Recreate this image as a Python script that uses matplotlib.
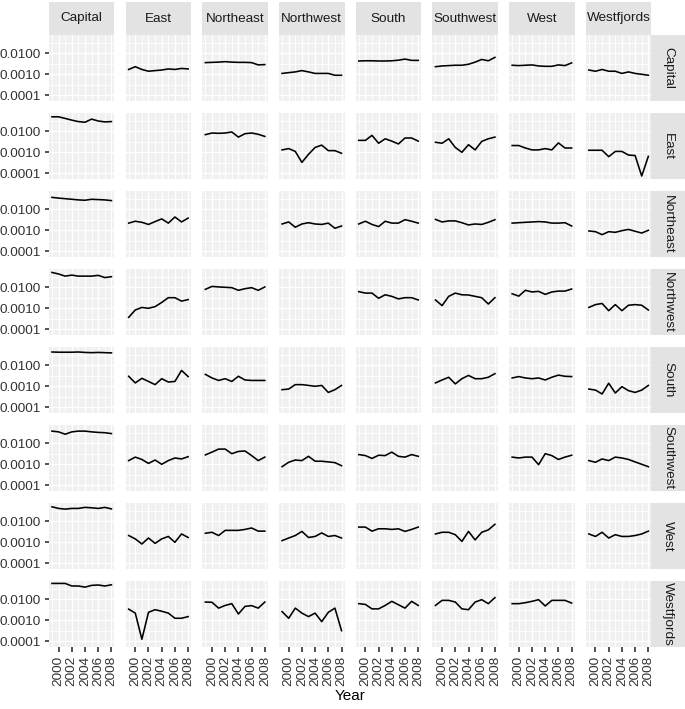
import matplotlib
matplotlib.use("Agg")
import matplotlib.pyplot as plt
from matplotlib.ticker import FixedLocator, FixedFormatter, NullFormatter

regions = ["Capital", "East", "Northeast", "Northwest", "South", "Southwest", "West", "Westfjords"]
years = list(range(1999, 2009))
x_breaks = [2000, 2002, 2004, 2006, 2008]
x_labels = ["2000", "2002", "2004", "2006", "2008"]
y_breaks = [0.0001, 0.001, 0.01]
y_labels = ["0.0001", "0.0010", "0.0100"]

row_capital = {
    "East": [0.0017, 0.0023, 0.0017, 0.0014, 0.0015, 0.0016, 0.0018, 0.0017, 0.0019, 0.0018],
    "Northeast": [0.0036, 0.0037, 0.0038, 0.0040, 0.0038, 0.0037, 0.0037, 0.0036, 0.0028, 0.0029],
    "Northwest": [0.0011, 0.0012, 0.0013, 0.0015, 0.0013, 0.0011, 0.0011, 0.0011, 0.0009, 0.0009],
    "South": [0.0043, 0.0044, 0.0044, 0.0043, 0.0043, 0.0044, 0.0047, 0.0053, 0.0046, 0.0046],
    "Southwest": [0.0023, 0.0025, 0.0026, 0.0027, 0.0027, 0.0030, 0.0038, 0.0051, 0.0044, 0.0064],
    "West": [0.0027, 0.0026, 0.0027, 0.0028, 0.0025, 0.0024, 0.0024, 0.0028, 0.0026, 0.0035],
    "Westfjords": [0.0016, 0.0014, 0.0017, 0.0014, 0.0014, 0.0011, 0.0013, 0.0011, 0.0010, 0.0009],
}
row_east = {
    "Capital": [0.049, 0.049, 0.041, 0.034, 0.029, 0.027, 0.038, 0.031, 0.028, 0.029],
    "Northeast": [0.0069, 0.0083, 0.0080, 0.0083, 0.0093, 0.0053, 0.0077, 0.0083, 0.0072, 0.0057],
    "Northwest": [0.0013, 0.0015, 0.0011, 0.00033, 0.0008, 0.0017, 0.0022, 0.0012, 0.0012, 0.0009],
    "South": [0.0037, 0.0037, 0.0064, 0.0027, 0.0044, 0.0034, 0.0025, 0.0048, 0.0048, 0.0034],
    "Southwest": [0.0030, 0.0027, 0.0044, 0.0017, 0.0010, 0.0023, 0.0013, 0.0033, 0.0044, 0.0053],
    "West": [0.0021, 0.0021, 0.0016, 0.0013, 0.0013, 0.0015, 0.0013, 0.0028, 0.0016, 0.0016],
    "Westfjords": [0.00125, 0.00125, 0.00125, 0.00062, 0.0011, 0.0011, 0.00074, 0.0007, 0.000074, 0.00064],
}
row_northeast = {
    "Capital": [0.037, 0.034, 0.032, 0.030, 0.028, 0.027, 0.030, 0.029, 0.028, 0.026],
    "East": [0.0022, 0.0027, 0.0024, 0.0019, 0.0026, 0.0035, 0.0022, 0.0043, 0.0025, 0.0038],
    "Northwest": [0.0020, 0.0025, 0.0014, 0.0020, 0.0023, 0.0020, 0.0019, 0.0022, 0.00125, 0.0016],
    "South": [0.0020, 0.0027, 0.0019, 0.0015, 0.0027, 0.0022, 0.0022, 0.0032, 0.0027, 0.0022],
    "Southwest": [0.0033, 0.0025, 0.0028, 0.0028, 0.0023, 0.0018, 0.0020, 0.0019, 0.0024, 0.0032],
    "West": [0.0022, 0.0023, 0.0024, 0.0025, 0.0026, 0.0025, 0.0022, 0.0022, 0.0023, 0.0016],
    "Westfjords": [0.00093, 0.00086, 0.00062, 0.00086, 0.0008, 0.00096, 0.0011, 0.0009, 0.00074, 0.0010],
}
row_northwest = {
    "Capital": [0.051, 0.043, 0.034, 0.038, 0.034, 0.034, 0.034, 0.037, 0.029, 0.032],
    "East": [0.00037, 0.00083, 0.0011, 0.0010, 0.0012, 0.0019, 0.0032, 0.0032, 0.0022, 0.0026],
    "Northeast": [0.0080, 0.0110, 0.0104, 0.0100, 0.0096, 0.0072, 0.0086, 0.0096, 0.0072, 0.0104],
    "South": [0.0062, 0.0053, 0.0053, 0.0030, 0.0044, 0.0037, 0.0028, 0.0032, 0.0032, 0.0025],
    "Southwest": [0.0025, 0.00134, 0.0037, 0.0053, 0.0044, 0.0043, 0.0037, 0.0032, 0.0016, 0.0032],
    "West": [0.0049, 0.0038, 0.0072, 0.0060, 0.0064, 0.0046, 0.0060, 0.0066, 0.0066, 0.0083],
    "Westfjords": [0.0011, 0.0015, 0.0017, 0.00077, 0.0015, 0.00077, 0.0014, 0.0015, 0.0014, 0.00083],
}
row_south = {
    "Capital": [0.043, 0.042, 0.042, 0.042, 0.043, 0.041, 0.040, 0.041, 0.040, 0.039],
    "East": [0.0030, 0.00145, 0.0024, 0.0017, 0.0012, 0.0023, 0.0016, 0.0017, 0.0057, 0.0029],
    "Northeast": [0.0037, 0.0025, 0.0019, 0.0023, 0.0017, 0.0030, 0.0020, 0.0019, 0.0019, 0.0019],
    "Northwest": [0.00069, 0.00074, 0.0012, 0.0012, 0.0011, 0.0010, 0.0011, 0.00051, 0.00069, 0.0011],
    "Southwest": [0.00145, 0.0020, 0.0027, 0.0013, 0.0023, 0.0033, 0.0023, 0.0023, 0.0027, 0.0040],
    "West": [0.0025, 0.0029, 0.0025, 0.0023, 0.0025, 0.0020, 0.0027, 0.0034, 0.0030, 0.0029],
    "Westfjords": [0.00074, 0.00066, 0.00043, 0.0014, 0.00048, 0.00096, 0.00062, 0.00051, 0.00066, 0.0011],
}
row_southwest = {
    "Capital": [0.038, 0.035, 0.027, 0.035, 0.038, 0.038, 0.035, 0.033, 0.032, 0.029],
    "East": [0.0015, 0.0022, 0.0017, 0.0011, 0.0016, 0.0010, 0.0015, 0.0020, 0.0018, 0.0023],
    "Northeast": [0.0028, 0.0038, 0.0053, 0.0053, 0.0032, 0.0041, 0.0043, 0.0026, 0.0015, 0.0022],
    "Northwest": [0.00077, 0.00125, 0.0016, 0.0015, 0.0024, 0.0014, 0.0014, 0.0013, 0.0012, 0.00086],
    "South": [0.0029, 0.0026, 0.0019, 0.0027, 0.0026, 0.0038, 0.0024, 0.0022, 0.0029, 0.0024],
    "West": [0.0022, 0.0020, 0.0022, 0.0022, 0.00096, 0.0032, 0.0026, 0.0017, 0.0022, 0.0027],
    "Westfjords": [0.0015, 0.00125, 0.0018, 0.0015, 0.0022, 0.0020, 0.0017, 0.0013, 0.0010, 0.00077],
}
row_west = {
    "Capital": [0.049, 0.041, 0.038, 0.041, 0.041, 0.046, 0.044, 0.041, 0.046, 0.039],
    "East": [0.0021, 0.00145, 0.00083, 0.0016, 0.00089, 0.00145, 0.0019, 0.0010, 0.0025, 0.0017],
    "Northeast": [0.0027, 0.0030, 0.0021, 0.0037, 0.0037, 0.0037, 0.0041, 0.0048, 0.0034, 0.0034],
    "Northwest": [0.0012, 0.0016, 0.0021, 0.0033, 0.0017, 0.0019, 0.0028, 0.0019, 0.0021, 0.0016],
    "South": [0.0053, 0.0053, 0.0034, 0.0044, 0.0044, 0.0041, 0.0044, 0.0033, 0.0041, 0.0053],
    "Southwest": [0.0025, 0.0030, 0.0030, 0.0023, 0.0011, 0.0033, 0.0013, 0.0030, 0.0039, 0.0072],
    "Westfjords": [0.0025, 0.0019, 0.0030, 0.0016, 0.0023, 0.0019, 0.0019, 0.0021, 0.0025, 0.0034],
}
row_westfjords = {
    "Capital": [0.057, 0.057, 0.057, 0.043, 0.043, 0.038, 0.046, 0.048, 0.043, 0.049],
    "East": [0.0034, 0.0022, 0.000125, 0.0024, 0.0032, 0.0027, 0.0022, 0.00125, 0.00125, 0.0015],
    "Northeast": [0.0074, 0.0072, 0.0038, 0.0051, 0.0062, 0.0020, 0.0046, 0.0050, 0.0038, 0.0074],
    "Northwest": [0.0026, 0.00125, 0.0038, 0.0022, 0.0015, 0.0022, 0.00086, 0.0024, 0.0038, 0.00032],
    "South": [0.0062, 0.0057, 0.0035, 0.0035, 0.0051, 0.0080, 0.0055, 0.0038, 0.0080, 0.0051],
    "Southwest": [0.0051, 0.0089, 0.0089, 0.0074, 0.0035, 0.0032, 0.0074, 0.0096, 0.0062, 0.0120],
    "West": [0.0062, 0.0062, 0.0069, 0.0080, 0.0096, 0.0048, 0.0089, 0.0089, 0.0089, 0.0066],
}
rows_data = [row_capital, row_east, row_northeast, row_northwest,
             row_south, row_southwest, row_west, row_westfjords]

plt.rcParams["font.family"] = ["Liberation Sans", "DejaVu Sans"]

W, H, DPI = 685, 709, 100
fig = plt.figure(figsize=(W / DPI, H / DPI), dpi=DPI)
fig.patch.set_facecolor("white")

def rect(left, top, w, h):
    return [left / W, 1 - (top + h) / H, w / W, h / H]

left0, pitch_x, pw = 49.0, 76.7, 65.4
top0, pitch_y, ph = 35.3, 78.0, 65.5
strip_h = 33.6
strip_w = W - (left0 + 7 * pitch_x + pw)

BG = "#F0F0F0"
STRIP = "#E3E3E3"
TICKC = "#333333"
LABC = "#333333"
FS = 9.7

for r, rname in enumerate(regions):
    for c, cname in enumerate(regions):
        lx = left0 + c * pitch_x
        ty = top0 + r * pitch_y
        ax = fig.add_axes(rect(lx, ty, pw, ph))
        ax.set_facecolor(BG)
        ax.set_yscale("log")
        ax.set_xlim(1998.55, 2008.45)
        ax.set_ylim(10 ** -4.262, 10 ** -1.143)
        ax.xaxis.set_major_locator(FixedLocator(x_breaks))
        ax.xaxis.set_minor_locator(FixedLocator([1999, 2001, 2003, 2005, 2007]))
        ax.yaxis.set_major_locator(FixedLocator(y_breaks))
        ax.yaxis.set_minor_locator(FixedLocator([10 ** -3.5, 10 ** -2.5, 10 ** -1.5]))
        ax.yaxis.set_minor_formatter(NullFormatter())
        ax.xaxis.set_minor_formatter(NullFormatter())
        ax.grid(which="major", color="white", linewidth=1.0)
        ax.grid(which="minor", color="white", linewidth=0.6)
        ax.set_axisbelow(True)
        for s in ax.spines.values():
            s.set_visible(False)
        ax.tick_params(which="minor", length=0)
        if c == 0:
            ax.yaxis.set_major_formatter(FixedFormatter(y_labels))
            ax.tick_params(axis="y", which="major", length=3.2, width=1.2,
                           color=TICKC, labelsize=FS, labelcolor=LABC, pad=2.8)
        else:
            ax.tick_params(axis="y", which="major", length=0, labelleft=False)
        if r == len(regions) - 1:
            ax.xaxis.set_major_formatter(FixedFormatter(x_labels))
            ax.tick_params(axis="x", which="major", length=3.4, width=1.2,
                           color=TICKC, labelsize=FS, labelcolor=LABC, pad=3.3,
                           labelrotation=90)
        else:
            ax.tick_params(axis="x", which="major", length=0, labelbottom=False)

        series = rows_data[r].get(cname)
        if series is not None:
            ax.plot(years, series, color="black", linewidth=1.15, solid_joinstyle="round")

        if r == 0:
            sax = fig.add_axes(rect(lx, top0 - strip_h, pw, strip_h))
            sax.set_facecolor(STRIP)
            sax.set_xticks([]); sax.set_yticks([])
            for s in sax.spines.values():
                s.set_visible(False)
            sax.text(0.5, 0.5, cname, ha="center", va="center", fontsize=FS,
                     color="#1A1A1A", transform=sax.transAxes)
        if c == len(regions) - 1:
            sax = fig.add_axes(rect(lx + pw, ty, strip_w, ph))
            sax.set_facecolor(STRIP)
            sax.set_xticks([]); sax.set_yticks([])
            for s in sax.spines.values():
                s.set_visible(False)
            sax.text(0.5, 0.5, rname, ha="center", va="center", fontsize=FS,
                     color="#1A1A1A", rotation=-90, transform=sax.transAxes)

fig.text((left0 + (7 * pitch_x + pw) / 2) / W, 1 - 696 / H, "Year",
         ha="center", va="center", fontsize=11, color="black")

fig.savefig("out.png", dpi=DPI, facecolor="white")
